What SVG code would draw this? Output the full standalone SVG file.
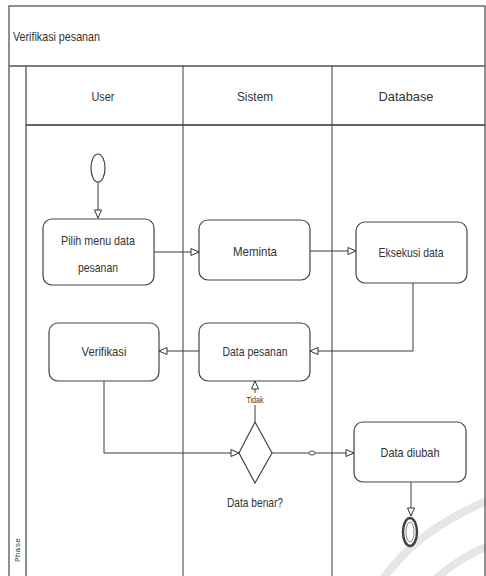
<svg xmlns="http://www.w3.org/2000/svg" width="486" height="576" viewBox="0 0 486 576">
<style>
.ln{stroke:#3a3a3a;stroke-width:1;fill:none}
.frame{stroke:#555;stroke-width:1.3;fill:none}
.box{fill:#fff;stroke:#444;stroke-width:1.2}
.t{font-family:"Liberation Sans",sans-serif;font-size:13px;fill:#333;text-anchor:middle}
.wm{stroke:#e6e6e6;fill:none;stroke-width:8}
</style>
<defs>
<marker id="tri" markerWidth="10" markerHeight="10" refX="9" refY="4" orient="auto" markerUnits="userSpaceOnUse">
<path d="M1,0.5 L9,4 L1,7.5 Z" fill="#fff" stroke="#333" stroke-width="1"/>
</marker>
</defs>
<rect width="486" height="576" fill="#fff"/>
<g id="watermark">
<path class="wm" d="M375,590 C405,545 440,520 500,495"/>
<path class="wm" d="M425,590 C445,568 468,552 500,542" stroke-width="6"/>
</g>
<g id="frame">
<rect class="frame" x="9" y="6" width="476" height="580"/>
<line class="frame" x1="9" y1="66" x2="485" y2="66"/>
<line class="frame" x1="26" y1="66" x2="26" y2="576"/>
<line class="frame" x1="26" y1="125" x2="485" y2="125" style="stroke:#333"/>
<line class="ln" x1="183" y1="66" x2="183" y2="576"/>
<line class="ln" x1="332" y1="66" x2="332" y2="576"/>
<text x="13" y="41" class="t" style="text-anchor:start" textLength="87" lengthAdjust="spacingAndGlyphs">Verifikasi pesanan</text>
<text x="103" y="101" class="t" textLength="23" lengthAdjust="spacingAndGlyphs">User</text>
<text x="255" y="101" class="t" textLength="36" lengthAdjust="spacingAndGlyphs">Sistem</text>
<text x="406" y="101" class="t" textLength="55" lengthAdjust="spacingAndGlyphs">Database</text>
<text transform="translate(20,550) rotate(-90)" class="t" style="font-family:'Liberation Mono',monospace;font-size:8px">Phase</text>
</g>
<g id="connectors">
<line class="ln" x1="98" y1="182" x2="98" y2="218" marker-end="url(#tri)"/>
<line class="ln" x1="154" y1="252" x2="199" y2="252" marker-end="url(#tri)"/>
<line class="ln" x1="310" y1="251" x2="356" y2="251" marker-end="url(#tri)"/>
<polyline class="ln" points="413,283 413,351 310,351" marker-end="url(#tri)"/>
<line class="ln" x1="199" y1="351" x2="159" y2="351" marker-end="url(#tri)"/>
<polyline class="ln" points="104,381 104,453 239,453" marker-end="url(#tri)"/>
<line class="ln" x1="255" y1="422" x2="255" y2="381" marker-end="url(#tri)"/>
<rect x="244" y="393" width="22" height="12" fill="#fff"/>
<text x="255" y="403" class="t" style="font-size:9px" textLength="17" lengthAdjust="spacingAndGlyphs">Tidak</text>
<line class="ln" x1="272" y1="453" x2="354" y2="453" marker-end="url(#tri)"/>
<ellipse cx="312" cy="453" rx="3" ry="2" fill="#fff" stroke="#555" stroke-width="1"/>
<line class="ln" x1="411" y1="482" x2="411" y2="516" marker-end="url(#tri)"/>
</g>
<g id="start">
<ellipse cx="98" cy="168" rx="7" ry="14" fill="#fff" stroke="#444" stroke-width="1.2"/>
</g>
<g id="pilih">
<rect class="box" x="43" y="219" width="111" height="66" rx="9"/>
<text x="98" y="245" class="t" textLength="74" lengthAdjust="spacingAndGlyphs">Pilih menu data</text>
<text x="98" y="272" class="t" textLength="40" lengthAdjust="spacingAndGlyphs">pesanan</text>
</g>
<g id="meminta">
<rect class="box" x="199" y="220" width="111" height="60" rx="9"/>
<text x="255" y="256" class="t" textLength="44" lengthAdjust="spacingAndGlyphs">Meminta</text>
</g>
<g id="eksekusi">
<rect class="box" x="356" y="222" width="111" height="61" rx="9"/>
<text x="411" y="257" class="t" textLength="65" lengthAdjust="spacingAndGlyphs">Eksekusi data</text>
</g>
<g id="verifikasi">
<rect class="box" x="49" y="323" width="110" height="58" rx="9"/>
<text x="104" y="356" class="t" textLength="45" lengthAdjust="spacingAndGlyphs">Verifikasi</text>
</g>
<g id="datapesanan">
<rect class="box" x="199" y="323" width="111" height="58" rx="9"/>
<text x="255" y="356" class="t" textLength="65" lengthAdjust="spacingAndGlyphs">Data pesanan</text>
</g>
<g id="decision">
<polygon points="255,422 272,453 255,483 239,453" fill="#fff" stroke="#444" stroke-width="1.2"/>
<text x="255" y="507" class="t" textLength="56" lengthAdjust="spacingAndGlyphs">Data benar?</text>
</g>
<g id="dataubah">
<rect class="box" x="354" y="422" width="112" height="60" rx="9"/>
<text x="410" y="457" class="t" textLength="59" lengthAdjust="spacingAndGlyphs">Data diubah</text>
</g>
<g id="end">
<ellipse cx="410" cy="532" rx="7" ry="14" fill="#fff" stroke="#444" stroke-width="2.5"/>
<ellipse cx="410" cy="532" rx="4" ry="10" fill="#fff" stroke="#888" stroke-width="1"/>
</g>
</svg>
